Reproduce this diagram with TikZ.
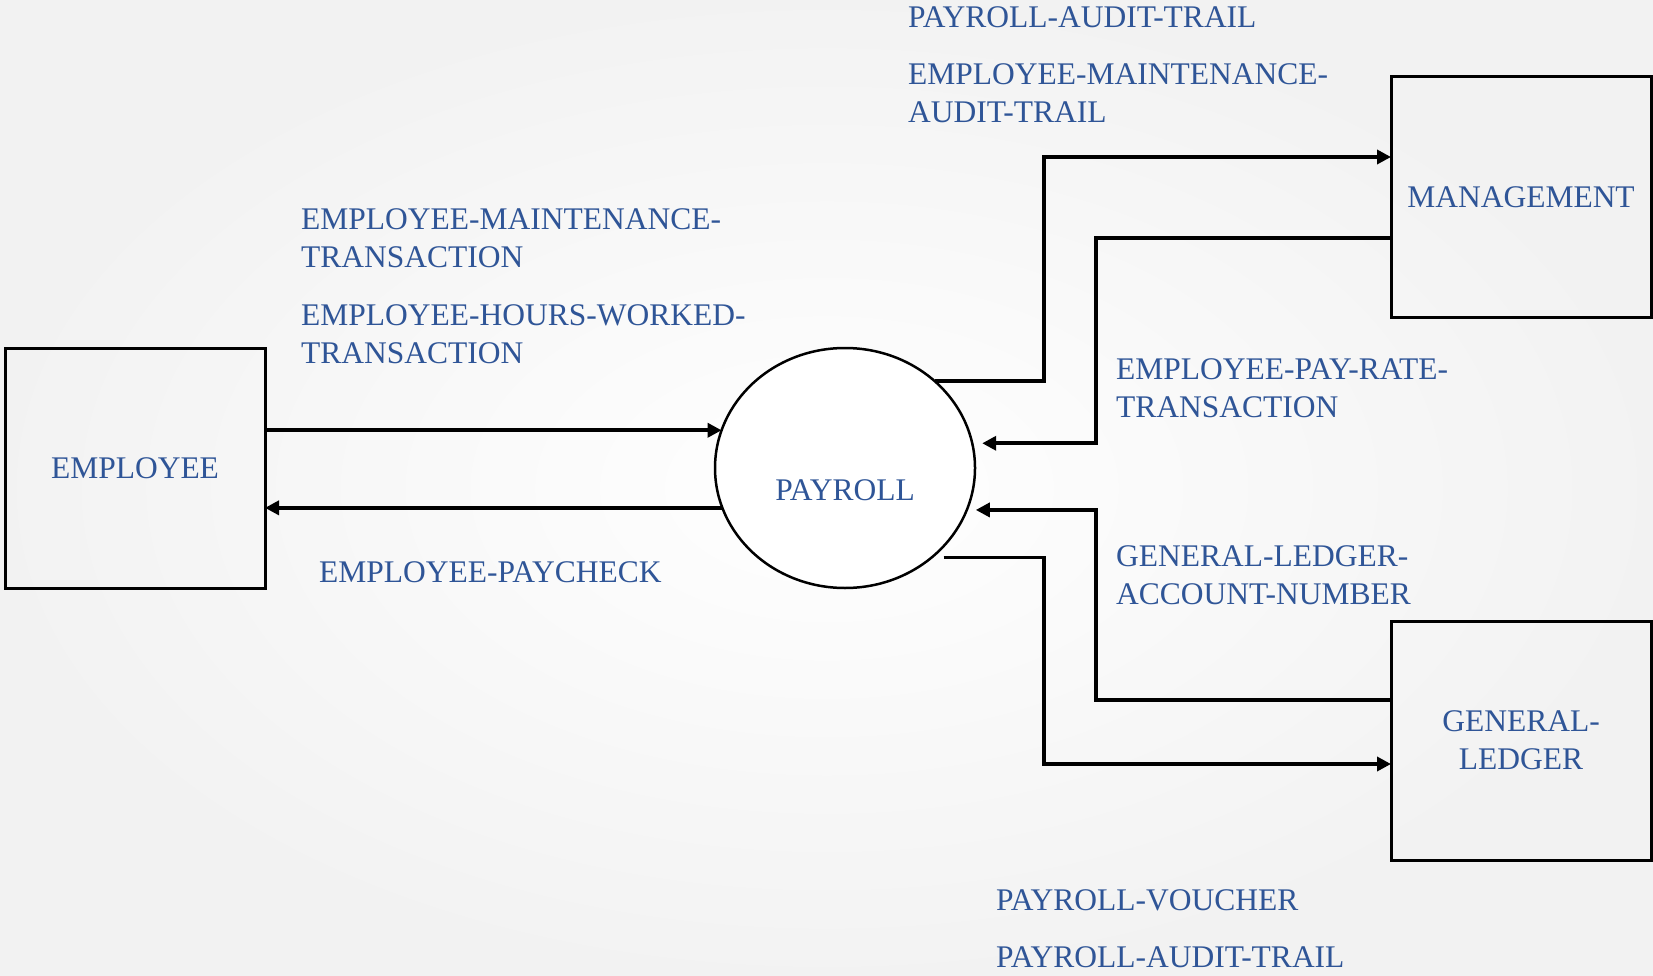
\documentclass[tikz,border=0pt]{standalone}
\usepackage{fontspec}
\setmainfont{Liberation Serif}
\usetikzlibrary{arrows.meta,shapes.geometric}
\definecolor{lblblue}{RGB}{47,85,151}
\begin{document}
\begin{tikzpicture}[x=1pt,y=-1pt,
  every node/.style={font=\fontsize{31.5}{38}\selectfont, text=lblblue},
  entity/.style={draw=black, line width=3pt, rectangle, minimum width=260pt,
    minimum height=240pt, inner sep=0pt, outer sep=0pt, align=center},
  proc/.style={draw=black, line width=2.5pt, ellipse, fill=white,
    minimum width=260pt, minimum height=240pt, inner sep=0pt, outer sep=0pt},
  flow/.style={line width=3.8pt, draw=black, -{Triangle[length=14pt,width=14pt]}},
  flowlabel/.style={anchor=base west, align=left, inner sep=0pt}]

% soft page background
\shade[inner color=white, outer color=black!5] (0,0) rectangle (1653,976);
\useasboundingbox (0,0) rectangle (1653,976);

% external entities and the process
\node[entity] (emp) at (135,468) {EMPLOYEE};
\node[proc] (pay) at (845,468) {};
\node[anchor=base] (payname) at (845,500) {PAYROLL};
\node[entity] (mgmt) at (1521,197) {MANAGEMENT};
\node[entity, minimum height=239pt] (gl) at (1521,740.5) {GENERAL-\\LEDGER};

% routing columns and connector ends
\coordinate (colA) at (1044,0);
\coordinate (colB) at (1096,0);
\coordinate (m1) at ([yshift=40pt]mgmt.west);
\coordinate (m2) at ([yshift=-41pt]mgmt.west);
\coordinate (g1) at ([yshift=40.5pt]gl.west);
\coordinate (g2) at ([yshift=-23.5pt]gl.west);
\coordinate (p2) at ([xshift=10pt]pay.11);
\coordinate (p3) at ([xshift=9pt]pay.-19);
\coordinate (p4) at ([xshift=12pt]pay.-46);

% data flows
\draw[flow] (emp.east |- pay.163) -- (pay.163);
\draw[flow] (pay.198) -- (emp.east |- pay.198);
\draw[flow] (pay.44) -- (pay.44 -| colA) |- (m1);
\draw[flow] (m2) -| (colB |- p2) -- (p2);
\draw[flow] (g1) -| (colB |- p3) -- (p3);
\draw[flow] (p4) -- (p4 -| colA) |- (g2);

% flow labels (base anchor = baseline of the last line)
\node[flowlabel] (l1) at (301,267) {EMPLOYEE-MAINTENANCE-\\TRANSACTION};
\node[flowlabel] (l2) at (301,363) {EMPLOYEE-HOURS-WORKED-\\TRANSACTION};
\node[flowlabel] (l3) at (319,582) {EMPLOYEE-PAYCHECK};
\node[flowlabel] (l4) at (908,28) {PAYROLL-AUDIT-TRAIL};
\node[flowlabel] (l5) at (908,123) {EMPLOYEE-MAINTENANCE-\\AUDIT-TRAIL};
\node[flowlabel] (l6) at (1116,417) {EMPLOYEE-PAY-RATE-\\TRANSACTION};
\node[flowlabel] (l7) at (1116,604) {GENERAL-LEDGER-\\ACCOUNT-NUMBER};
\node[flowlabel] (l8) at (996,910) {PAYROLL-VOUCHER};
\node[flowlabel] (l9) at (996,967) {PAYROLL-AUDIT-TRAIL};
\end{tikzpicture}
\end{document}
